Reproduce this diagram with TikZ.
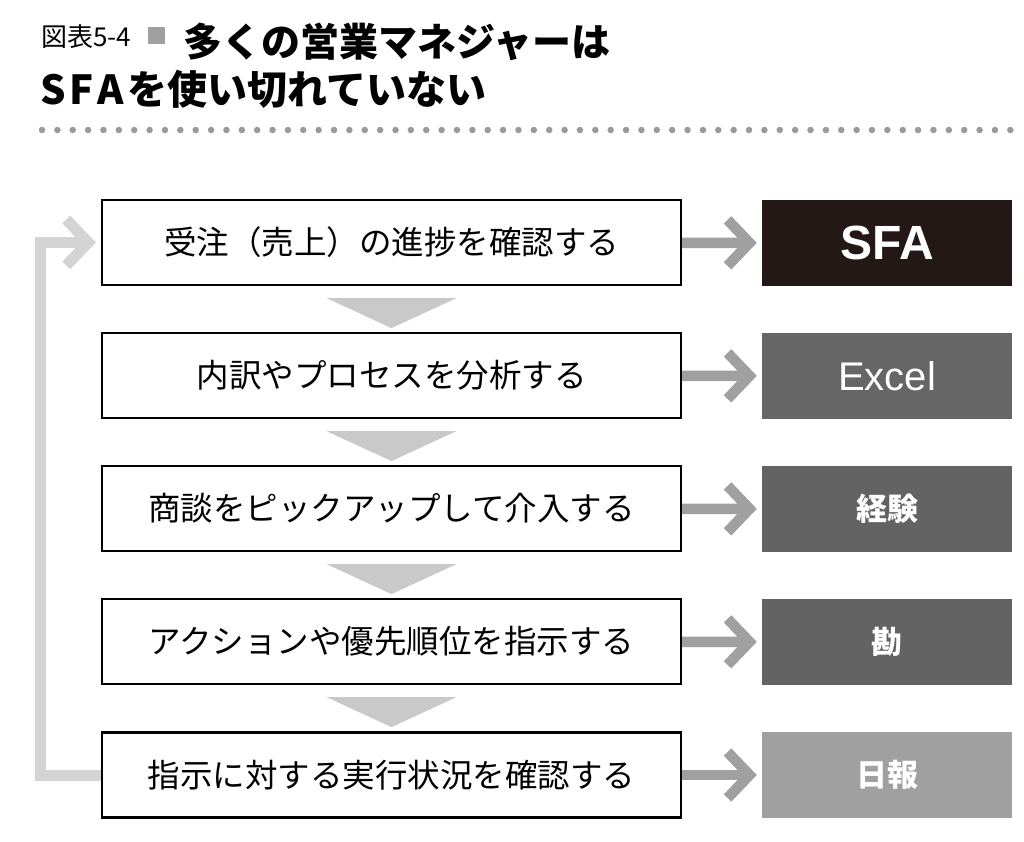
\documentclass[tikz,border=0pt]{standalone}
\usepackage{fontspec}
\setsansfont{Liberation Sans}
\newfontfamily\jp{Noto Sans CJK JP}
\usetikzlibrary{arrows.meta}
\definecolor{sfablack}{HTML}{231815}
\definecolor{darkgray}{HTML}{666666}
\definecolor{midgray}{HTML}{A0A0A0}
\definecolor{tricolor}{HTML}{C9C9C9}
\definecolor{loopcolor}{HTML}{D4D4D4}
\definecolor{dotcolor}{HTML}{9A9A9A}
\begin{document}
\begin{tikzpicture}[x=1pt,y=1pt,
        stepbox/.style={draw,line width=2.2pt,minimum width=579pt,minimum height=85pt,inner sep=0pt,
            font=\jp\fontsize{32.5}{36}\selectfont},
        toolbox/.style={fill=#1,minimum width=250pt,minimum height=86pt,inner sep=0pt,text=white},
        flowarrow/.style={draw=midgray,line width=10.5pt,shorten >=5pt,
            -{Straight Barb[length=22pt,width=46pt,line width=10.5pt]}},
        looparrow/.style={draw=loopcolor,line width=11pt,shorten >=5pt,
            -{Straight Barb[length=22pt,width=46pt,line width=11pt]}},
        downtri/.style={fill=tricolor}]
        \useasboundingbox (0,0) rectangle (1024,-841);
        % title
        \node[anchor=west,inner sep=0pt,font=\jp\fontsize{26}{26}\selectfont] (fig) at (41,-37) {図表5-4};
        \node[fill=midgray,minimum size=17pt,inner sep=0pt] (mark) at (156.5,-35) {};
        \node[anchor=west,inner sep=0pt,font=\jp\bfseries\fontsize{39}{39}\selectfont] (title1) at (183,-42) {多くの営業マネジャーは};
        \node[anchor=west,inner sep=0pt,font=\jp\bfseries\fontsize{40}{40}\selectfont] (title2) at (40,-89) {S\kern4pt F\kern4pt A\kern3pt を使い切れていない};
        \draw[dotcolor,line width=6.5pt,line cap=round,dash pattern=on 0pt off 15.37pt] (42,-130) -- (1011,-130);
        % steps
        \node[stepbox] (b1) at (391.5,-242.5) {受注（売上）の進捗を確認する};
        \node[stepbox] (b2) at (391.5,-375.5) {内訳やプロセスを分析する};
        \node[stepbox] (b3) at (391.5,-508.5) {商談をピックアップして介入する};
        \node[stepbox] (b4) at (391.5,-641.5) {アクションや優先順位を指示する};
        \node[stepbox] (b5) at (391.5,-775) {指示に対する実行状況を確認する};
        % tools
        \node[toolbox=sfablack,font=\sffamily\bfseries\fontsize{48}{48}\selectfont] (sfa) at (887,-243) {SFA};
        \node[toolbox=darkgray,font=\sffamily\fontsize{40}{40}\selectfont] (excel) at (887,-376) {Excel};
        \node[toolbox=darkgray!97!black,font=\jp\bfseries\fontsize{31}{31}\selectfont] (keiken) at (887,-509) {経験};
        \node[toolbox=darkgray!97!black,font=\jp\bfseries\fontsize{31}{31}\selectfont] (kan) at (887,-642) {勘};
        \node[toolbox=midgray,font=\jp\bfseries\fontsize{31}{31}\selectfont] (nippo) at (887,-775) {日報};
        \draw[flowarrow] (b1) -- (sfa);
        \draw[flowarrow] (b2) -- (excel);
        \draw[flowarrow] (b3) -- (keiken);
        \draw[flowarrow] (b4) -- (kan);
        \draw[flowarrow] (b5) -- (nippo);
        % down triangles
        \fill[downtri] ([xshift=-65pt,yshift=-12pt]b1.south) -- ++(130,0) -- ++(-65,-30) -- cycle;
        \fill[downtri] ([xshift=-65pt,yshift=-12pt]b2.south) -- ++(130,0) -- ++(-65,-30) -- cycle;
        \fill[downtri] ([xshift=-65pt,yshift=-12pt]b3.south) -- ++(130,0) -- ++(-65,-30) -- cycle;
        \fill[downtri] ([xshift=-65pt,yshift=-12pt]b4.south) -- ++(130,0) -- ++(-65,-30) -- cycle;
        % loop back
        \draw[looparrow] (b5.west) -- ++(-60,0) |- (b1.west);
    \end{tikzpicture}
\end{document}
